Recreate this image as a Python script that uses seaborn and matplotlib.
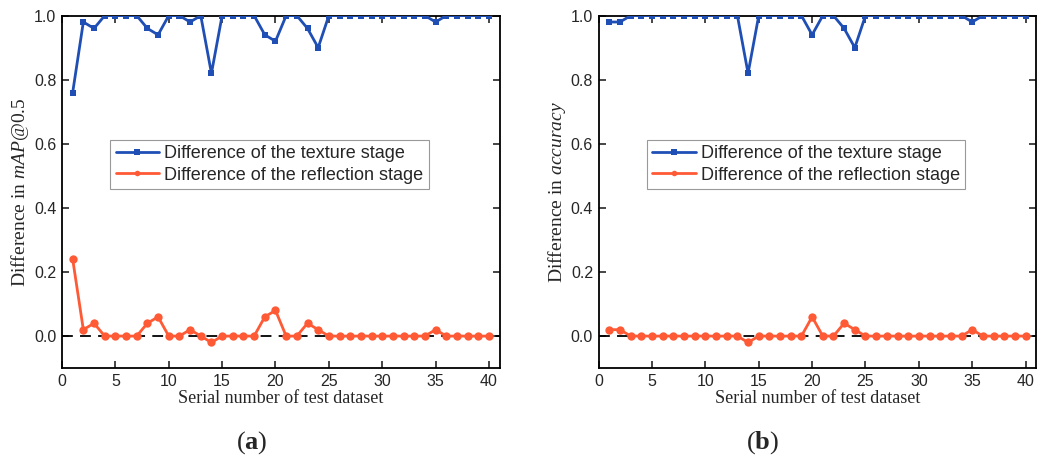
import numpy as np
import pandas as pd
import seaborn as sns
import matplotlib
matplotlib.use("Agg")
import matplotlib.pyplot as plt

# Dados (1..40)
serial = list(range(1, 41))

texture_map = [0.76, 0.98, 0.96, 1.00, 1.00, 1.00, 1.00, 0.96, 0.94, 1.00,
               1.00, 0.98, 1.00, 0.82, 1.00, 1.00, 1.00, 1.00, 0.94, 0.92,
               1.00, 1.00, 0.96, 0.90, 1.00, 1.00, 1.00, 1.00, 1.00, 1.00,
               1.00, 1.00, 1.00, 1.00, 0.98, 1.00, 1.00, 1.00, 1.00, 1.00]
reflection_map = [0.24, 0.02, 0.04, 0.00, 0.00, 0.00, 0.00, 0.04, 0.06, 0.00,
                  0.00, 0.02, 0.00, -0.02, 0.00, 0.00, 0.00, 0.00, 0.06, 0.08,
                  0.00, 0.00, 0.04, 0.02, 0.00, 0.00, 0.00, 0.00, 0.00, 0.00,
                  0.00, 0.00, 0.00, 0.00, 0.02, 0.00, 0.00, 0.00, 0.00, 0.00]

texture_acc = [0.98, 0.98, 1.00, 1.00, 1.00, 1.00, 1.00, 1.00, 1.00, 1.00,
               1.00, 1.00, 1.00, 0.82, 1.00, 1.00, 1.00, 1.00, 1.00, 0.94,
               1.00, 1.00, 0.96, 0.90, 1.00, 1.00, 1.00, 1.00, 1.00, 1.00,
               1.00, 1.00, 1.00, 1.00, 0.98, 1.00, 1.00, 1.00, 1.00, 1.00]
reflection_acc = [0.02, 0.02, 0.00, 0.00, 0.00, 0.00, 0.00, 0.00, 0.00, 0.00,
                  0.00, 0.00, 0.00, -0.02, 0.00, 0.00, 0.00, 0.00, 0.00, 0.06,
                  0.00, 0.00, 0.04, 0.02, 0.00, 0.00, 0.00, 0.00, 0.00, 0.00,
                  0.00, 0.00, 0.00, 0.00, 0.02, 0.00, 0.00, 0.00, 0.00, 0.00]

series_names = ["Difference of the texture stage", "Difference of the reflection stage"]
ylabels = [r"Difference in $\mathit{mAP@0.5}$", r"Difference in $\mathit{accuracy}$"]
captions = [r"($\mathbf{a}$)", r"($\mathbf{b}$)"]

blue = "#1F4FB5"
orange = "#FF5A36"

sns.set_style("ticks")
plt.rcParams["font.family"] = ["Liberation Sans", "DejaVu Sans"]
plt.rcParams["mathtext.fontset"] = "custom"
plt.rcParams["mathtext.rm"] = "Liberation Serif"
plt.rcParams["mathtext.it"] = "Liberation Serif:italic"
plt.rcParams["mathtext.bf"] = "Liberation Serif:bold"

fig = plt.figure(figsize=(10.42, 4.59), dpi=100)
ax_a = fig.add_axes([0.0595, 0.198, 0.420, 0.768])
ax_b = fig.add_axes([0.5745, 0.198, 0.420, 0.768])

panels = [(ax_a, texture_map, reflection_map), (ax_b, texture_acc, reflection_acc)]

for i, (ax, tex, ref) in enumerate(panels):
    df = pd.DataFrame({"serial": serial, "texture": tex, "reflection": ref})
    ax.axhline(0, color="black", lw=1.3, ls=(0, (6, 4)), zorder=1)
    sns.lineplot(data=df, x="serial", y="texture", ax=ax, color=blue, lw=2,
                 marker="s", markersize=5, markeredgewidth=0,
                 label=series_names[0], zorder=3)
    sns.lineplot(data=df, x="serial", y="reflection", ax=ax, color=orange, lw=2,
                 marker="o", markersize=6, markeredgewidth=0,
                 label=series_names[1], zorder=3)
    ax.set_xlim(0, 41)
    ax.set_ylim(-0.1, 1.0)
    ax.set_xticks(range(0, 41, 5))
    ax.set_yticks(np.arange(0, 1.01, 0.2))
    ax.yaxis.set_major_formatter(matplotlib.ticker.FormatStrFormatter("%.1f"))
    ax.tick_params(direction="in", top=True, right=True, length=5, width=1.2,
                   labelsize=11.5, pad=4)
    ax.tick_params(axis="x", pad=4)
    for s in ax.spines.values():
        s.set_linewidth(1.3)
        s.set_color("black")
    ax.set_xlabel("Serial number of test dataset", family="Liberation Serif",
                  fontsize=13, labelpad=1)
    ax.set_ylabel(ylabels[i], family="Liberation Serif", fontsize=14, labelpad=2)
    leg = ax.legend(loc="lower left", bbox_to_anchor=(0.11, 0.508), fontsize=13,
                    handlelength=2.4, handletextpad=0.3, labelspacing=0.25,
                    borderpad=0.3, fancybox=False, framealpha=1, borderaxespad=0)
    leg.get_frame().set_edgecolor("#999999")
    leg.get_frame().set_linewidth(0.8)
    for h in leg.legend_handles:
        h.set_markersize(4)

fig.text(0.242, 0.035, captions[0], family="Liberation Serif", fontsize=19,
         ha="center", va="center")
fig.text(0.732, 0.035, captions[1], family="Liberation Serif", fontsize=19,
         ha="center", va="center")

fig.savefig("out.png", dpi=100, facecolor="white")
